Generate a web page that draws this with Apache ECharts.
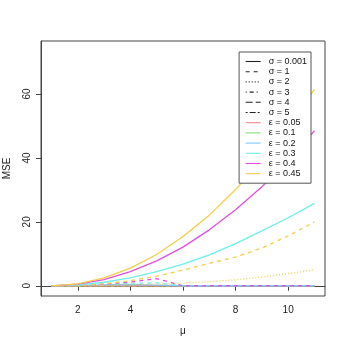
<!DOCTYPE html>
<html><head><meta charset="utf-8">
<script src="https://cdn.jsdelivr.net/npm/echarts@6/dist/echarts.min.js"></script>
<style>html,body{margin:0;padding:0;background:#fff}#c{width:346px;height:346px}</style>
</head><body><div id="c"></div>
<script>
const mu = [1,2,3,4,5,6,7,8,9,10,11];
const xTicks = [2,4,6,8,10];
const yTicks = [0,20,40,60];
// sigma = 0.001 (solid)
const s0_e45 = [0, 0.6, 2.5, 5.5, 9.8, 15.4, 22.1, 30.1, 39.3, 49.8, 61.5];
const s0_e40 = [0, 0.5, 1.9, 4.4, 7.8, 12.1, 17.5, 23.8, 31.0, 39.3, 48.5];
const s0_e30 = [0, 0.3, 1.1, 2.5, 4.4, 6.8, 9.7, 13.2, 17.2, 21.3, 25.8];
const s0_e20 = [0, 0.1, 0.3, 0.4, 0.2, 0, 0, 0, 0, 0, 0];
const s0_e10 = [0, 0, 0, 0, 0, 0, 0, 0, 0, 0, 0];
const s0_e05 = [0, 0, 0, 0, 0, 0, 0, 0, 0, 0, 0];
// sigma = 1 (dashed)
const s1_e45 = [0, 0.1, 0.6, 1.6, 3.0, 4.9, 7.0, 9.0, 11.8, 15.6, 20.0];
const s1_e40 = [0, 0.1, 0.5, 1.2, 2.2, 0, 0, 0, 0, 0, 0];
const s1_e30 = [0, 0.1, 0.4, 0.8, 0.9, 0, 0, 0, 0, 0, 0];
// sigma = 2 (dotted)
const s2_e45 = [0, 0, 0.1, 0.3, 0.5, 0.8, 1.3, 1.9, 2.7, 3.8, 5.0];
// sigma = 3..5 at zero
const s3_e45 = [0, 0, 0, 0, 0, 0, 0, 0, 0, 0, 0];

const sigNames = ['σ = 0.001','σ = 1','σ = 2','σ = 3','σ = 4','σ = 5'];
const sigTypes = ['solid',[4,4],[1,2],[1,3,4,3],[7,3],[2,2,6,2]];
const epsNames = ['ε = 0.05','ε = 0.1','ε = 0.2','ε = 0.3','ε = 0.4','ε = 0.45'];
const epsColors = ['#F4868C','#86E07C','#7EC4F6','#6EEEEE','#E050E0','#F8CC48'];

function pts(arr){ return mu.map((m,i)=>[m, arr[i]]); }
function line(arr, color, type, z){
  return {type:'line', data:pts(arr), symbol:'none', silent:true, z:z||2,
    lineStyle:{color:color, width:1.3, type:type}};
}
const series = [
  line(s3_e45, epsColors[5], sigTypes[3], 1),
  line(s0_e10, epsColors[1], 'solid', 1),
  line(s0_e05, epsColors[0], 'solid', 2),
  line(s0_e20, epsColors[2], 'solid', 2),
  line(s1_e30, epsColors[3], sigTypes[1], 2),
  line(s1_e40, epsColors[4], sigTypes[1], 2),
  line(s2_e45, epsColors[5], sigTypes[2], 2),
  line(s1_e45, epsColors[5], sigTypes[1], 2),
  line(s0_e30, epsColors[3], 'solid', 3),
  line(s0_e40, epsColors[4], 'solid', 3),
  line(s0_e45, epsColors[5], 'solid', 3)
];
sigNames.forEach((n,i)=>series.push({type:'line', name:n, data:[], symbol:'none', symbolSize:0,
  lineStyle:{color:'#222', width:1, type:sigTypes[i]}, itemStyle:{color:'#222', opacity:0}}));
epsNames.forEach((n,i)=>series.push({type:'line', name:n, data:[], symbol:'none', symbolSize:0,
  lineStyle:{color:epsColors[i], width:1.3, type:'solid'}, itemStyle:{color:epsColors[i], opacity:0}}));

const FONT = 'Liberation Sans, Arial, sans-serif';
const chart = echarts.init(document.getElementById('c'));
chart.setOption({
  animation:false,
  backgroundColor:'#fff',
  grid:{left:41, right:21, top:41, bottom:50, outerBoundsMode:'none', containLabel:false,
    show:true, borderColor:'#444', borderWidth:1, backgroundColor:'transparent'},
  xAxis:{type:'value', min:0.6, max:11.4, name:'μ', nameLocation:'middle', nameGap:30,
    nameTextStyle:{fontFamily:FONT, fontSize:10, color:'#222'},
    axisLine:{show:true, lineStyle:{color:'#444'}},
    axisTick:{show:true, length:5, customValues:xTicks, lineStyle:{color:'#444'}},
    axisLabel:{customValues:xTicks, fontFamily:FONT, fontSize:10, color:'#222', margin:9},
    splitLine:{show:false}},
  yAxis:{type:'value', min:-3.2, max:76.6, name:'MSE', nameLocation:'middle', nameGap:29,
    nameTextStyle:{fontFamily:FONT, fontSize:10, color:'#222'},
    axisLine:{show:true, lineStyle:{color:'#444'}},
    axisTick:{show:true, length:5, customValues:yTicks, lineStyle:{color:'#444'}},
    axisLabel:{customValues:yTicks, rotate:90, fontFamily:FONT, fontSize:10, color:'#222', margin:9},
    splitLine:{show:false}},
  legend:{show:true, orient:'vertical', right:35, top:52,
    data:sigNames.concat(epsNames),
    backgroundColor:'#fff', borderColor:'#555', borderWidth:1, borderRadius:0,
    padding:[5,4,5,6], itemWidth:15, itemHeight:8, itemGap:1.2,
    selectedMode:false, itemStyle:{opacity:0}, lineStyle:{width:1.1},
    textStyle:{fontFamily:FONT, fontSize:9, color:'#111', padding:[0,0,0,3]}},
  series:series
});
</script></body></html>
